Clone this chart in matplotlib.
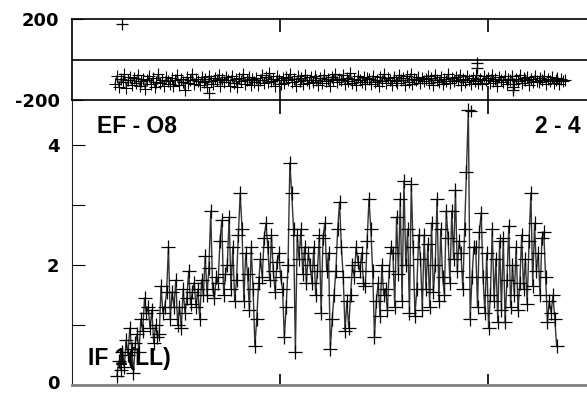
import matplotlib
matplotlib.use("Agg")
import matplotlib.pyplot as plt
import matplotlib.transforms as mtransforms
import numpy as np

# --- datos ---
# panel superior (valores alrededor de -100)
top_vals = [
    -120, -80, -135, -95, -110, -70, -140, -100, -85, -125, -90, -115, -75, -130, -105,
    -95, -145, -100, -80, -120, -90, -135, -110, -70, -115, -100, -130, -85, -105, -120,
    -90, -130, -100, -75, -125, -95, -110, -150, -85, -115, -100, -70, -120, -95, -105,
    -125, -85, -110, -95, -135, -80, -105, -120, -90, -100, -75, -130, -95, -110, -85,
    -100, -130, -80, -115, -95, -135, -90, -105, -70, -120, -100, -85, -125, -95, -110,
    -90, -125, -100, -75, -115, -85, -110, -65, -105, -95, -130, -80, -100, -120, -90,
    -115, -85, -100, -70, -110, -95, -130, -80, -105, -90, -120, -75, -100, -115, -85,
    -110, -80, -100, -125, -90, -115, -75, -105, -95, -130, -85, -100, -70, -110, -95,
    -100, -75, -120, -90, -105, -65, -115, -95, -125, -80, -100, -110, -85, -120, -90,
    -95, -120, -80, -110, -100, -130, -85, -105, -70, -115, -90, -100, -125, -85, -105,
    -115, -75, -100, -90, -125, -80, -110, -70, -120, -95, -100, -85, -115, -90, -105,
    -95, -80, -115, -90, -125, -75, -100, -110, -85, -120, -95, -105, -70, -115, -90,
    -105, -85, -100, -75, -125, -95, -110, -80, -100, -120, -90, -105, -75, -115, -95,
    -120, -80, -100, -90, -115, -75, -105, -95, -130, -85, -100, -110, -80, -120, -95,
    -100, -80, -120, -95, -105, -75, -115, -90, -100, -85, -125, -95, -110, -80, -105,
    -110, -90, -100, -80, -120, -95, -105, -85, -115, -100, -90, -120, -95, -105, -100,
]
top_x_range = (0.207, 2.37)

# puntos sueltos del panel superior
out_x = [0.24, 0.66, 1.92, 1.945, 1.945, 2.12, 2.12]
out_y = [175, -165, -255, -15, -40, -150, -135]

# panel inferior
bot_vals = [
    0.15, 0.4, 0.25, 0.55, 0.3, 0.75, 0.5, 0.95, 0.6, 0.2, 0.7, 0.85, 0.55, 1.1, 0.9,
    1.45, 1.2, 1.3, 0.95, 1.25, 0.7, 1.0, 0.8, 0.85, 1.65, 1.2, 1.3, 1.55, 2.3, 1.1,
    1.55, 1.3, 1.75, 1.0, 1.3, 0.95, 1.6, 1.2, 1.45, 1.9, 1.35, 1.55, 1.7, 1.3, 1.6,
    1.1, 1.75, 1.5, 2.15, 1.5, 1.95, 2.9, 1.6, 1.45, 1.8, 1.7, 2.4, 2.75, 1.5, 1.85,
    2.0, 2.8, 1.6, 2.3, 1.4, 1.75, 2.5, 3.2, 2.6, 1.4, 2.2, 1.85, 1.25, 2.3, 1.6,
    0.65, 1.1, 1.7, 2.1, 1.8, 2.45, 2.7, 2.3, 1.75, 2.5, 1.9, 1.55, 2.05, 2.2, 1.8,
    1.6, 0.8, 1.3, 2.0, 3.7, 3.2, 2.6, 0.55, 2.5, 2.1, 2.6, 1.85, 2.3, 1.7, 2.2,
    2.0, 1.7, 2.3, 1.5, 1.9, 2.5, 1.2, 2.45, 2.7, 1.9, 2.2, 0.6, 1.1, 1.5, 1.9,
    2.6, 3.05, 2.3, 1.8, 0.9, 1.4, 0.95, 1.5, 2.0, 1.8, 2.3, 2.05, 1.9, 2.2, 1.7,
    1.65, 2.4, 3.1, 2.6, 1.9, 0.8, 1.4, 1.7, 1.15, 2.0, 1.5, 1.6, 1.25, 1.9, 2.3,
    2.2, 1.3, 2.8, 1.85, 3.1, 1.4, 3.4, 2.0, 2.6, 1.2, 3.35, 2.3, 1.15, 1.6, 2.5,
    2.1, 1.25, 2.5, 1.6, 2.35, 1.3, 2.7, 1.55, 2.0, 3.1, 1.4, 2.6, 1.8, 1.5, 2.9,
    2.45, 1.7, 2.9, 2.1, 3.25, 1.9, 2.4, 2.2, 1.6, 2.6, 3.55, 4.58, 1.1, 1.8, 2.3,
    2.3, 1.3, 2.55, 2.87, 1.8, 1.2, 2.2, 0.95, 1.5, 2.6, 1.4, 2.1, 1.05, 2.4, 1.25,
    2.45, 1.05, 1.75, 2.65, 1.3, 2.0, 1.5, 2.3, 1.25, 1.7, 2.5, 1.6, 2.1, 1.35, 2.4,
    3.2, 1.65, 2.7, 1.9, 2.2, 1.5, 2.45, 2.55, 1.8, 1.05, 1.4, 1.2, 1.5, 1.1, 0.65,
]
bot_x_range = (0.216, 2.33)

x_ticks = [1, 2]

W, H = 587, 393
fig = plt.figure(figsize=(W / 100, H / 100), dpi=100)

def px_axes(left, top, right, bottom):
    return fig.add_axes([left / W, 1 - bottom / H, (right - left) / W, (bottom - top) / H])

tick_font = {'family': 'DejaVu Sans', 'weight': 'bold', 'size': 13}
txt_font = dict(family='Liberation Sans', fontweight='bold', fontsize=16.5)

# --- panel superior ---
ax1 = px_axes(72, 19, 587, 100)
x_top = np.linspace(top_x_range[0], top_x_range[1], len(top_vals))
ax1.plot(x_top, top_vals, color='#444444', lw=0.9, marker='+', ms=8,
         mec='black', mew=0.8, clip_on=False)
ax1.plot(out_x, out_y, ls='none', marker='+', ms=9, mec='black', mew=0.9, clip_on=False)
ax1.axhline(0, color='black', lw=1.2)
ax1.set_xlim(0, 515 / 208)
ax1.set_ylim(-200, 200)
ax1.spines['right'].set_visible(False)
for s in ['top', 'bottom', 'left']:
    ax1.spines[s].set_linewidth(1.2)
ax1.set_yticks([-200, 200])
ax1.set_yticklabels(['-200', '200'], fontdict=tick_font)
ax1.set_xticks(x_ticks)
ax1.set_xticklabels([])
ax1.tick_params(axis='y', direction='in', length=8, pad=9)
ax1.tick_params(axis='x', top=False, bottom=True,
                direction='inout', length=20, width=1.2)
sec = ax1.secondary_xaxis('top')
sec.set_xticks(x_ticks)
sec.set_xticklabels([])
sec.tick_params(direction='in', length=9, width=1.2)
sec.spines['top'].set_visible(False)

# --- panel inferior ---
ax2 = px_axes(72, 100, 587, 385)
x_bot = np.linspace(bot_x_range[0], bot_x_range[1], len(bot_vals))
ax2.plot(x_bot, bot_vals, color='#333333', lw=1.0, marker='+', ms=9.5,
         mec='black', mew=0.9)
ax2.set_xlim(0, 515 / 208)
ax2.set_ylim(0, 285 / 60)
ax2.patch.set_visible(False)
ax2.spines['top'].set_visible(False)
ax2.spines['right'].set_visible(False)
ax2.spines['left'].set_color('#222222')
ax2.spines['bottom'].set_color('#808080')
ax2.spines['bottom'].set_linewidth(2)
ax2.set_yticks([0, 1, 2, 3, 4])
ax2.set_yticklabels(['0', '', '2', '', '4'], fontdict=tick_font)
ax2.set_xticks(x_ticks)
ax2.set_xticklabels([])
ax2.tick_params(axis='y', direction='in', length=9, pad=9)
ax2.tick_params(axis='x', direction='in', length=8, width=1.2)
# subir un poco la etiqueta "0" para que no se corte
zero_lbl = ax2.get_yticklabels()[0]
zero_lbl.set_transform(zero_lbl.get_transform() +
                       mtransforms.ScaledTranslation(0, 2 / 72, fig.dpi_scale_trans))

fig.text(97 / W, 1 - 133 / H, 'EF - O8', ha='left', va='baseline', **txt_font)
fig.text(535 / W, 1 - 133 / H, '2 - 4', ha='left', va='baseline', **txt_font)
fig.text(88 / W, 1 - 365 / H, 'IF 1(LL)', ha='left', va='baseline', **txt_font)

fig.savefig('out.png', dpi=100)
